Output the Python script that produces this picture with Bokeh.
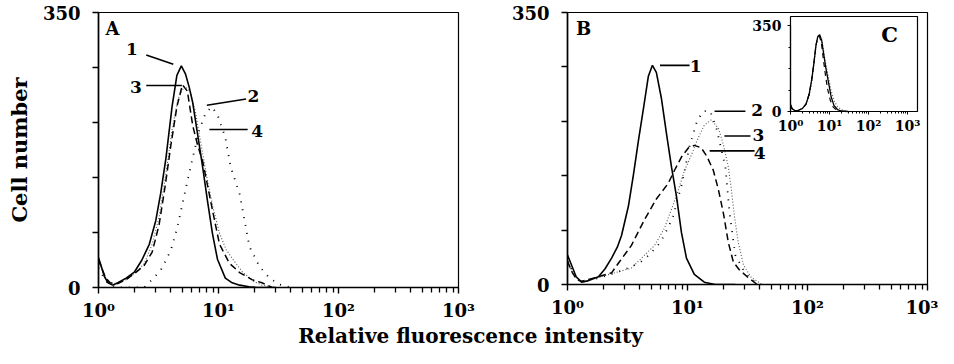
from bokeh.plotting import figure
from bokeh.layouts import column, row
from bokeh.models import (Range1d, LogScale, LogAxis, LinearAxis, FixedTicker, Label)
from bokeh.embed import file_html
from bokeh.resources import INLINE

FONT = "DejaVu Serif"

# ---------------- data ----------------
# Panel A
a1_x = [1.0, 1.05, 1.12, 1.2, 1.31, 1.45, 1.7, 2.0, 2.3, 2.65, 3.0, 3.3, 3.65, 4.1, 4.5, 4.9, 5.3, 5.7, 6.1, 6.7, 7.4, 8.1, 8.9, 9.8, 11.4, 13, 15, 18, 21, 30]
a1_y = [38, 28, 14, 6, 3, 6, 12, 20, 35, 55, 85, 120, 165, 230, 270, 282, 272, 255, 235, 195, 152, 110, 69, 36, 12, 6, 3, 1, 0, 0]
a2_x = [1.0, 1.15, 1.4, 2.4, 2.8, 3.3, 4.0, 4.55, 5.0, 5.5, 6.1, 6.9, 7.8, 8.8, 9.8, 11.4, 12.6, 15, 16.5, 18.1, 21.9, 26.6, 32, 40]
a2_y = [25, 8, 0, 0, 10, 22, 47, 77, 106, 135, 165, 200, 222, 230, 220, 191, 154, 119, 85, 52, 27, 12, 4, 0]
a3_x = [1.0, 1.06, 1.15, 1.25, 1.4, 1.7, 2.0, 2.4, 2.8, 3.2, 3.6, 4.1, 4.6, 5.2, 5.8, 6.4, 7.2, 8.0, 9.0, 10.2, 11.6, 13.3, 15.8, 19.5, 23, 30]
a3_y = [34, 24, 12, 5, 4, 10, 18, 30, 55, 90, 140, 200, 240, 256, 250, 225, 180, 140, 102, 69, 48, 35, 20, 8, 3, 0]
a4_x = [1.0, 1.06, 1.15, 1.25, 1.45, 1.7, 2.0, 2.4, 2.8, 3.2, 3.6, 4.0, 4.5, 5.0, 5.5, 6.1, 6.7, 7.4, 8.1, 9.0, 10.2, 12.3, 15, 19, 23, 28]
a4_y = [36, 25, 12, 6, 5, 10, 18, 28, 45, 80, 130, 180, 230, 258, 250, 206, 181, 160, 130, 95, 55, 31, 19, 10, 6, 0]

# Panel B
b1_x = [1.0, 1.08, 1.18, 1.31, 1.5, 1.81, 2.05, 2.33, 2.6, 2.82, 3.22, 3.55, 3.9, 4.3, 4.72, 5.1, 5.5, 6.07, 6.7, 7.36, 8.1, 8.9, 9.8, 11.4, 13.8, 17, 25]
b1_y = [38, 25, 10, 3, 5, 10, 20, 34, 48, 63, 101, 142, 185, 227, 268, 282, 273, 239, 193, 151, 113, 67, 34, 13, 3, 0, 0]
b2_x = [1.0, 1.15, 1.3, 1.8, 2.5, 3.3, 4.0, 4.8, 6.0, 7.5, 9.0, 10.4, 12.0, 13.5, 15.5, 17.5, 20.7, 22.4, 25, 29.8, 35, 40]
b2_y = [30, 12, 4, 8, 15, 22, 28, 38, 55, 85, 130, 178, 210, 223, 223, 200, 151, 92, 38, 16, 5, 0]
b3_x = [1.0, 1.1, 1.25, 1.4, 1.8, 2.46, 3.4, 4.4, 5.3, 6.4, 7.36, 8.4, 9.45, 10.8, 12.3, 13.8, 15.8, 18.1, 19.9, 21.9, 23.2, 24.6, 26.5, 29.3, 34, 42]
b3_y = [28, 15, 6, 4, 9, 15, 21, 38, 50, 72, 97, 122, 147, 167, 189, 205, 212, 201, 180, 151, 122, 88, 54, 25, 9, 0]
b4_x = [1.0, 1.1, 1.2, 1.31, 1.81, 2.33, 2.7, 3.4, 4.4, 5.5, 6.9, 7.8, 8.9, 10.2, 11.4, 13, 14.5, 16.4, 18.1, 19.9, 21.9, 24.1, 27, 32, 38]
b4_y = [30, 15, 6, 4, 10, 15, 29, 50, 84, 110, 130, 147, 164, 176, 179, 176, 165, 147, 122, 92, 54, 29, 19, 9, 0]

# Inset C
c1_x = [1.0, 1.1, 1.3, 1.6, 2.0, 2.5, 3.0, 3.5, 4.0, 4.5, 5.0, 5.6, 6.3, 7.0, 8.0, 9.4, 11, 13, 16, 20, 30]
c1_y = [28, 12, 3, 5, 12, 30, 70, 130, 200, 270, 305, 313, 290, 240, 180, 120, 60, 25, 8, 2, 0]
c2_x = [1.0, 1.1, 1.3, 1.6, 2.0, 2.5, 3.0, 3.5, 4.0, 4.5, 5.0, 5.6, 6.3, 7.0, 8.0, 9.4, 11, 13, 16, 20, 25, 32]
c2_y = [25, 10, 3, 5, 11, 27, 62, 120, 190, 262, 300, 310, 292, 250, 195, 140, 85, 45, 20, 8, 3, 0]
c3_x = [1.0, 1.1, 1.3, 1.6, 2.0, 2.5, 3.0, 3.5, 4.0, 4.5, 5.0, 5.6, 6.3, 7.0, 8.0, 9.0, 10.5, 12.5, 15, 20]
c3_y = [26, 10, 3, 5, 12, 30, 70, 130, 200, 268, 302, 305, 270, 210, 140, 90, 45, 18, 6, 0]

# tick values / labels
decade_ticks = [1, 10, 100, 1000]
decade_labels = ["10\u2070", "10\u00b9", "10\u00b2", "10\u00b3"]
count_ticks = [0, 350]
count_minor = [70, 140, 210, 280]
inset_minor = [87.5, 175, 262.5]

# curve-number annotations: (text, text x, text y, line x0, y0, x1, y1)
notes_A = [("1", 1.9, 303, 2.5, 296, 4.2, 284),
           ("3", 2.05, 255, 2.5, 257, 4.95, 257),
           ("2", 19.5, 244, 8.0, 232, 17.0, 240),
           ("4", 21.0, 199, 8.4, 201, 17.5, 201)]
notes_B = [("1", 11.7, 281, 5.9, 282, 10.4, 282),
           ("2", 38.0, 224, 16.8, 223, 30.4, 223),
           ("3", 39.0, 193, 20.3, 191, 33.5, 191),
           ("4", 40.0, 169, 15.3, 172, 36.2, 172)]

# ---------------- styles ----------------
INK = "black"
SOLID = dict(line_color=INK, line_width=1.6)
COARSE = dict(line_color=INK, line_width=1.8, line_dash="1 7")
FINE = dict(line_color="#555555", line_width=1.1, line_dash="1 2")
DASH = dict(line_color=INK, line_width=1.5, line_dash="7 4")

minor_decades = [k * 10 ** d for d in range(3) for k in range(2, 10)]


def base_fig(mb_left, mb_right, mb_top, mb_bottom, fh):
    p = figure(frame_width=360, frame_height=fh, x_axis_type="log",
               x_range=Range1d(1, 1000), y_range=Range1d(0, 350),
               toolbar_location=None, output_backend="svg",
               min_border_left=mb_left, min_border_right=mb_right,
               min_border_top=mb_top, min_border_bottom=mb_bottom)
    p.xgrid.visible = False
    p.ygrid.visible = False
    p.outline_line_color = INK
    p.outline_line_width = 1.2
    p.background_fill_color = "white"
    p.border_fill_color = "white"
    xa = p.xaxis[0]
    ya = p.yaxis[0]
    xa.ticker = FixedTicker(ticks=decade_ticks, minor_ticks=minor_decades)
    xa.major_label_overrides = {t: s for t, s in zip(decade_ticks, decade_labels)}
    ya.ticker = FixedTicker(ticks=count_ticks, minor_ticks=count_minor)
    for ax in (xa, ya):
        ax.axis_line_color = INK
        ax.axis_line_width = 1.6
        ax.major_tick_line_color = INK
        ax.minor_tick_line_color = INK
        ax.major_tick_line_width = 1.4
        ax.minor_tick_line_width = 1.3
        ax.major_label_text_font = FONT
        ax.major_label_text_font_style = "bold"
        ax.major_label_text_font_size = "18px"
        ax.major_label_text_color = INK
    xa.major_tick_in = 0
    xa.major_tick_out = 6
    xa.minor_tick_in = 0
    xa.minor_tick_out = 5
    xa.major_label_standoff = 6
    ya.major_tick_in = 0
    ya.major_tick_out = 6
    ya.minor_tick_in = 0
    ya.minor_tick_out = 6
    ya.major_label_standoff = 12
    return p


def txt(**kw):
    base = dict(text_font=FONT, text_font_style="bold", text_color=INK,
                text_align="center", text_baseline="middle")
    base.update(kw)
    return Label(**base)


def add_notes(p, notes):
    for t, tx, ty, x0, y0, x1, y1 in notes:
        p.segment(x0=[x0], y0=[y0], x1=[x1], y1=[y1], line_color=INK, line_width=1.6)
        p.add_layout(txt(x=tx, y=ty, text=t, text_font_size="17px"))


# ---------------- panel A ----------------
pA = base_fig(98, 24, 12, 36, 275)
ya = pA.yaxis[0]
ya.axis_label = "Cell number"
ya.axis_label_text_font = FONT
ya.axis_label_text_font_style = "bold"
ya.axis_label_text_font_size = "21px"
ya.axis_label_text_color = INK
ya.axis_label_standoff = 8
pA.line(a2_x, a2_y, **COARSE)
pA.line(a3_x, a3_y, **FINE)
pA.line(a4_x, a4_y, **DASH)
pA.line(a1_x, a1_y, **SOLID)
add_notes(pA, notes_A)
pA.add_layout(txt(x=1.31, y=330, text="A", text_font_size="18px"))

# ---------------- panel B ----------------
pB = base_fig(85, 11, 10, 41, 272)
pB.line(b2_x, b2_y, **COARSE)
pB.line(b3_x, b3_y, **FINE)
pB.line(b4_x, b4_y, **DASH)
pB.line(b1_x, b1_y, **SOLID)
add_notes(pB, notes_B)
pB.add_layout(txt(x=1.36, y=330, text="B", text_font_size="18px"))

# ---------------- inset C (inside panel B) ----------------
# fractions of panel-B frame where the inset's 10^0 / 10^3 and 0 / 350 sit
FX0, FX1 = 223 / 360, 340 / 360
FY0, FY1 = 173 / 272, 259 / 272
kx = 3 / (FX1 - FX0)
ky = 350 / (FY1 - FY0)
pB.extra_x_ranges = {"ix": Range1d(10 ** (-FX0 * kx), 10 ** ((1 - FX0) * kx))}
pB.extra_x_scales = {"ix": LogScale()}
pB.extra_y_ranges = {"iy": Range1d(-FY0 * ky, (1 - FY0) * ky)}
box_right = 10 ** ((350 / 360 - FX0) * kx)
box_top = (268 / 272 - FY0) * ky
pB.quad(left=[1], right=[box_right], bottom=[0], top=[box_top],
        x_range_name="ix", y_range_name="iy",
        fill_color="white", line_color=INK, line_width=1.2)
pB.line(c2_x, c2_y, x_range_name="ix", y_range_name="iy", line_color="#555555", line_width=1.1, line_dash="1 2")
pB.line(c3_x, c3_y, x_range_name="ix", y_range_name="iy", line_color=INK, line_width=1.2, line_dash="5 4")
pB.line(c1_x, c1_y, x_range_name="ix", y_range_name="iy", line_color=INK, line_width=1.3)

ixa = LogAxis(x_range_name="ix", y_range_name="iy", fixed_location=0, bounds=(1, 1000),
              ticker=FixedTicker(ticks=decade_ticks, minor_ticks=minor_decades),
              major_label_overrides={t: s for t, s in zip(decade_ticks, decade_labels)})
iya = LinearAxis(x_range_name="ix", y_range_name="iy", fixed_location=1, bounds=(0, 350),
                 ticker=FixedTicker(ticks=count_ticks, minor_ticks=inset_minor))
for ax in (ixa, iya):
    ax.axis_line_color = INK
    ax.axis_line_width = 1.2
    ax.major_tick_line_color = INK
    ax.minor_tick_line_color = INK
    ax.major_tick_in = 0
    ax.major_tick_out = 3
    ax.minor_tick_in = 0
    ax.minor_tick_out = 2
    ax.major_label_text_font = FONT
    ax.major_label_text_font_style = "bold"
    ax.major_label_text_font_size = "14px"
    ax.major_label_text_color = INK
ixa.major_label_standoff = 3
iya.major_label_standoff = 6
pB.add_layout(ixa, "below")
pB.add_layout(iya, "left")
pB.add_layout(txt(x=347, y=312, x_range_name="ix", y_range_name="iy", text="C",
                  text_font_size="21px"))

# ---------------- shared x label ----------------
LH = 25
pL = figure(width=938, height=LH, x_range=Range1d(0, 938), y_range=Range1d(0, LH),
            toolbar_location=None, output_backend="svg", min_border=0,
            x_axis_location=None, y_axis_location=None)
pL.xgrid.visible = False
pL.ygrid.visible = False
pL.outline_line_color = None
pL.add_layout(txt(x=470, y=LH / 2, text="Relative fluorescence intensity", text_font_size="20px"))

layout = column(row(pA, pB), pL)
open("out.html", "w").write(file_html(layout, INLINE))
